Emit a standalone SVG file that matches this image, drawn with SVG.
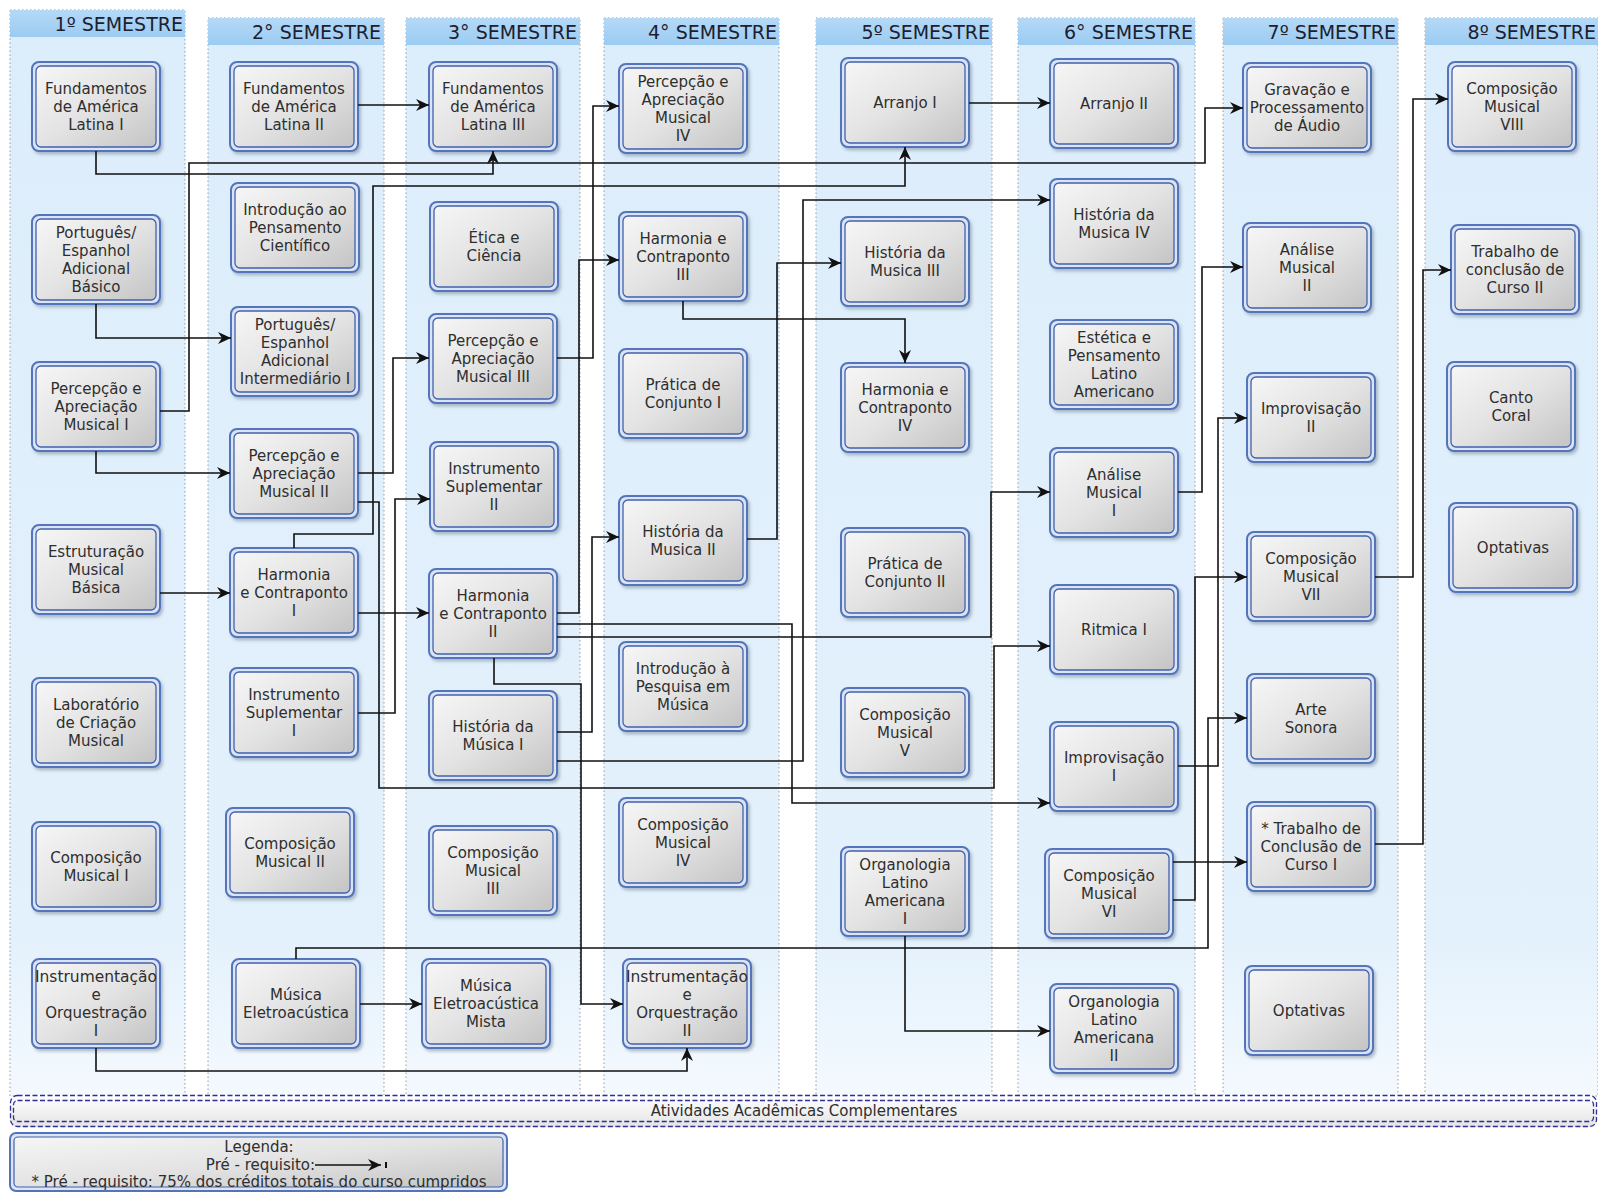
<svg xmlns="http://www.w3.org/2000/svg" width="1598" height="1192" viewBox="0 0 1598 1192">
<defs>
<linearGradient id="colg" x1="0" y1="0" x2="0" y2="1"><stop offset="0" stop-color="#dcedfb"/><stop offset="0.85" stop-color="#e3f1fc"/><stop offset="1" stop-color="#f4f9fe"/></linearGradient>
<linearGradient id="hdg" x1="0" y1="0" x2="0" y2="1"><stop offset="0" stop-color="#b4d9f6"/><stop offset="1" stop-color="#9ccbf2"/></linearGradient>
<linearGradient id="ng" x1="0" y1="0" x2="1" y2="1"><stop offset="0" stop-color="#f6f6f6"/><stop offset="0.5" stop-color="#e3e3e3"/><stop offset="1" stop-color="#c4c4c4"/></linearGradient>
<linearGradient id="ag" x1="0" y1="0" x2="0" y2="1"><stop offset="0" stop-color="#ffffff"/><stop offset="1" stop-color="#e4e4e4"/></linearGradient>
<filter id="sh" x="-10%" y="-10%" width="130%" height="130%"><feDropShadow dx="2" dy="2.5" stdDeviation="1.8" flood-color="#456" flood-opacity="0.35"/></filter>
<marker id="ar" markerWidth="14" markerHeight="12" refX="13" refY="6" orient="auto" markerUnits="userSpaceOnUse"><path d="M0,0 L13,6 L0,12 L4,6 Z" fill="#111"/></marker>
<style>
.band{fill:url(#colg);stroke:#9a9a9a;stroke-width:1;stroke-dasharray:1.5,2.5}
.hd{fill:url(#hdg)}
.ht{font-family:"DejaVu Sans",Verdana,sans-serif;font-size:19px;fill:#1c2030;text-anchor:end}
.o{fill:#dbe4f6;stroke:#5474ba;stroke-width:2;filter:url(#sh)}
.i{fill:url(#ng);stroke:#4262aa;stroke-width:1.3}
.t{font-family:"DejaVu Sans",Verdana,sans-serif;font-size:15px;fill:#2e2e2e;text-anchor:middle}
.cn path{fill:none;stroke:#111;stroke-width:1.6;marker-end:url(#ar)}
.lt{font-family:"DejaVu Sans",Verdana,sans-serif;font-size:15px;fill:#2e2e2e;text-anchor:middle}
.ds{fill:none;stroke:#2e2e96;stroke-width:1.3;stroke-dasharray:5,2.5}
</style>
</defs>
<rect width="1598" height="1192" fill="#ffffff"/>
<g id="columns">
<rect class="band" x="10" y="10" width="175" height="1086"/>
<rect class="hd" x="10" y="10" width="175" height="27"/>
<text class="ht" x="183" y="31">1º SEMESTRE</text>
<rect class="band" x="208" y="18" width="176" height="1078"/>
<rect class="hd" x="208" y="18" width="176" height="27"/>
<text class="ht" x="381" y="39">2° SEMESTRE</text>
<rect class="band" x="406" y="18" width="174" height="1078"/>
<rect class="hd" x="406" y="18" width="174" height="27"/>
<text class="ht" x="577" y="39">3° SEMESTRE</text>
<rect class="band" x="604" y="18" width="175" height="1078"/>
<rect class="hd" x="604" y="18" width="175" height="27"/>
<text class="ht" x="777" y="39">4° SEMESTRE</text>
<rect class="band" x="816" y="18" width="176" height="1078"/>
<rect class="hd" x="816" y="18" width="176" height="27"/>
<text class="ht" x="990" y="39">5º SEMESTRE</text>
<rect class="band" x="1018" y="18" width="177" height="1078"/>
<rect class="hd" x="1018" y="18" width="177" height="27"/>
<text class="ht" x="1193" y="39">6° SEMESTRE</text>
<rect class="band" x="1223" y="18" width="175" height="1078"/>
<rect class="hd" x="1223" y="18" width="175" height="27"/>
<text class="ht" x="1396" y="39">7º SEMESTRE</text>
<rect class="band" x="1425" y="18" width="173" height="1078"/>
<rect class="hd" x="1425" y="18" width="173" height="27"/>
<text class="ht" x="1596" y="39">8º SEMESTRE</text>
</g>

<g id="nodes">
<!-- column 1 -->
<g id="fal1" transform="translate(32,62)"><rect class="o" width="128" height="89" rx="7"/><rect class="i" x="4" y="4" width="120" height="81" rx="5"/><text class="t"><tspan x="64" y="32">Fundamentos</tspan><tspan x="64" y="50">de América</tspan><tspan x="64" y="68">Latina I</tspan></text></g>
<g id="pe-basico" transform="translate(32,215)"><rect class="o" width="128" height="89" rx="7"/><rect class="i" x="4" y="4" width="120" height="81" rx="5"/><text class="t"><tspan x="64" y="23">Português/</tspan><tspan x="64" y="41">Espanhol</tspan><tspan x="64" y="59">Adicional</tspan><tspan x="64" y="77">Básico</tspan></text></g>
<g id="pam1" transform="translate(32,362)"><rect class="o" width="128" height="89" rx="7"/><rect class="i" x="4" y="4" width="120" height="81" rx="5"/><text class="t"><tspan x="64" y="32">Percepção e</tspan><tspan x="64" y="50">Apreciação</tspan><tspan x="64" y="68">Musical I</tspan></text></g>
<g id="emb" transform="translate(32,525)"><rect class="o" width="128" height="89" rx="7"/><rect class="i" x="4" y="4" width="120" height="81" rx="5"/><text class="t"><tspan x="64" y="32">Estruturação</tspan><tspan x="64" y="50">Musical</tspan><tspan x="64" y="68">Básica</tspan></text></g>
<g id="lcm" transform="translate(32,678)"><rect class="o" width="128" height="89" rx="7"/><rect class="i" x="4" y="4" width="120" height="81" rx="5"/><text class="t"><tspan x="64" y="32">Laboratório</tspan><tspan x="64" y="50">de Criação</tspan><tspan x="64" y="68">Musical</tspan></text></g>
<g id="cm1" transform="translate(32,822)"><rect class="o" width="128" height="89" rx="7"/><rect class="i" x="4" y="4" width="120" height="81" rx="5"/><text class="t"><tspan x="64" y="41">Composição</tspan><tspan x="64" y="59">Musical I</tspan></text></g>
<g id="io1" transform="translate(32,959)"><rect class="o" width="128" height="89" rx="7"/><rect class="i" x="4" y="4" width="120" height="81" rx="5"/><text class="t"><tspan x="64" y="23" textLength="122" lengthAdjust="spacingAndGlyphs">Instrumentação</tspan><tspan x="64" y="41">e</tspan><tspan x="64" y="59">Orquestração</tspan><tspan x="64" y="77">I</tspan></text></g>
<!-- column 2 -->
<g id="fal2" transform="translate(230,62)"><rect class="o" width="128" height="89" rx="7"/><rect class="i" x="4" y="4" width="120" height="81" rx="5"/><text class="t"><tspan x="64" y="32">Fundamentos</tspan><tspan x="64" y="50">de América</tspan><tspan x="64" y="68">Latina II</tspan></text></g>
<g id="ipc" transform="translate(231,183)"><rect class="o" width="128" height="89" rx="7"/><rect class="i" x="4" y="4" width="120" height="81" rx="5"/><text class="t"><tspan x="64" y="32">Introdução ao</tspan><tspan x="64" y="50">Pensamento</tspan><tspan x="64" y="68">Científico</tspan></text></g>
<g id="pe-inter" transform="translate(231,307)"><rect class="o" width="128" height="89" rx="7"/><rect class="i" x="4" y="4" width="120" height="81" rx="5"/><text class="t"><tspan x="64" y="23">Português/</tspan><tspan x="64" y="41">Espanhol</tspan><tspan x="64" y="59">Adicional</tspan><tspan x="64" y="77">Intermediário I</tspan></text></g>
<g id="pam2" transform="translate(230,429)"><rect class="o" width="128" height="89" rx="7"/><rect class="i" x="4" y="4" width="120" height="81" rx="5"/><text class="t"><tspan x="64" y="32">Percepção e</tspan><tspan x="64" y="50">Apreciação</tspan><tspan x="64" y="68">Musical II</tspan></text></g>
<g id="hc1" transform="translate(230,548)"><rect class="o" width="128" height="89" rx="7"/><rect class="i" x="4" y="4" width="120" height="81" rx="5"/><text class="t"><tspan x="64" y="32">Harmonia</tspan><tspan x="64" y="50">e Contraponto</tspan><tspan x="64" y="68">I</tspan></text></g>
<g id="is1" transform="translate(230,668)"><rect class="o" width="128" height="89" rx="7"/><rect class="i" x="4" y="4" width="120" height="81" rx="5"/><text class="t"><tspan x="64" y="32">Instrumento</tspan><tspan x="64" y="50">Suplementar</tspan><tspan x="64" y="68">I</tspan></text></g>
<g id="cm2" transform="translate(226,808)"><rect class="o" width="128" height="89" rx="7"/><rect class="i" x="4" y="4" width="120" height="81" rx="5"/><text class="t"><tspan x="64" y="41">Composição</tspan><tspan x="64" y="59">Musical II</tspan></text></g>
<g id="me" transform="translate(232,959)"><rect class="o" width="128" height="89" rx="7"/><rect class="i" x="4" y="4" width="120" height="81" rx="5"/><text class="t"><tspan x="64" y="41">Música</tspan><tspan x="64" y="59">Eletroacústica</tspan></text></g>
<!-- column 3 -->
<g id="fal3" transform="translate(429,62)"><rect class="o" width="128" height="89" rx="7"/><rect class="i" x="4" y="4" width="120" height="81" rx="5"/><text class="t"><tspan x="64" y="32">Fundamentos</tspan><tspan x="64" y="50">de América</tspan><tspan x="64" y="68">Latina III</tspan></text></g>
<g id="etica" transform="translate(430,202)"><rect class="o" width="128" height="89" rx="7"/><rect class="i" x="4" y="4" width="120" height="81" rx="5"/><text class="t"><tspan x="64" y="41">Ética e</tspan><tspan x="64" y="59">Ciência</tspan></text></g>
<g id="pam3" transform="translate(429,314)"><rect class="o" width="128" height="89" rx="7"/><rect class="i" x="4" y="4" width="120" height="81" rx="5"/><text class="t"><tspan x="64" y="32">Percepção e</tspan><tspan x="64" y="50">Apreciação</tspan><tspan x="64" y="68">Musical III</tspan></text></g>
<g id="is2" transform="translate(430,442)"><rect class="o" width="128" height="89" rx="7"/><rect class="i" x="4" y="4" width="120" height="81" rx="5"/><text class="t"><tspan x="64" y="32">Instrumento</tspan><tspan x="64" y="50">Suplementar</tspan><tspan x="64" y="68">II</tspan></text></g>
<g id="hc2" transform="translate(429,569)"><rect class="o" width="128" height="89" rx="7"/><rect class="i" x="4" y="4" width="120" height="81" rx="5"/><text class="t"><tspan x="64" y="32">Harmonia</tspan><tspan x="64" y="50">e Contraponto</tspan><tspan x="64" y="68">II</tspan></text></g>
<g id="hm1" transform="translate(429,691)"><rect class="o" width="128" height="89" rx="7"/><rect class="i" x="4" y="4" width="120" height="81" rx="5"/><text class="t"><tspan x="64" y="41">História da</tspan><tspan x="64" y="59">Música I</tspan></text></g>
<g id="cm3" transform="translate(429,826)"><rect class="o" width="128" height="89" rx="7"/><rect class="i" x="4" y="4" width="120" height="81" rx="5"/><text class="t"><tspan x="64" y="32">Composição</tspan><tspan x="64" y="50">Musical</tspan><tspan x="64" y="68">III</tspan></text></g>
<g id="mem" transform="translate(422,959)"><rect class="o" width="128" height="89" rx="7"/><rect class="i" x="4" y="4" width="120" height="81" rx="5"/><text class="t"><tspan x="64" y="32">Música</tspan><tspan x="64" y="50">Eletroacústica</tspan><tspan x="64" y="68">Mista</tspan></text></g>
<!-- column 4 -->
<g id="pam4" transform="translate(619,64)"><rect class="o" width="128" height="89" rx="7"/><rect class="i" x="4" y="4" width="120" height="81" rx="5"/><text class="t"><tspan x="64" y="23">Percepção e</tspan><tspan x="64" y="41">Apreciação</tspan><tspan x="64" y="59">Musical</tspan><tspan x="64" y="77">IV</tspan></text></g>
<g id="hc3" transform="translate(619,212)"><rect class="o" width="128" height="89" rx="7"/><rect class="i" x="4" y="4" width="120" height="81" rx="5"/><text class="t"><tspan x="64" y="32">Harmonia e</tspan><tspan x="64" y="50">Contraponto</tspan><tspan x="64" y="68">III</tspan></text></g>
<g id="pc1" transform="translate(619,349)"><rect class="o" width="128" height="89" rx="7"/><rect class="i" x="4" y="4" width="120" height="81" rx="5"/><text class="t"><tspan x="64" y="41">Prática de</tspan><tspan x="64" y="59">Conjunto I</tspan></text></g>
<g id="hm2" transform="translate(619,496)"><rect class="o" width="128" height="89" rx="7"/><rect class="i" x="4" y="4" width="120" height="81" rx="5"/><text class="t"><tspan x="64" y="41">História da</tspan><tspan x="64" y="59">Musica II</tspan></text></g>
<g id="ipm" transform="translate(619,642)"><rect class="o" width="128" height="89" rx="7"/><rect class="i" x="4" y="4" width="120" height="81" rx="5"/><text class="t"><tspan x="64" y="32">Introdução à</tspan><tspan x="64" y="50">Pesquisa em</tspan><tspan x="64" y="68">Música</tspan></text></g>
<g id="cm4" transform="translate(619,798)"><rect class="o" width="128" height="89" rx="7"/><rect class="i" x="4" y="4" width="120" height="81" rx="5"/><text class="t"><tspan x="64" y="32">Composição</tspan><tspan x="64" y="50">Musical</tspan><tspan x="64" y="68">IV</tspan></text></g>
<g id="io2" transform="translate(623,959)"><rect class="o" width="128" height="89" rx="7"/><rect class="i" x="4" y="4" width="120" height="81" rx="5"/><text class="t"><tspan x="64" y="23" textLength="122" lengthAdjust="spacingAndGlyphs">Instrumentação</tspan><tspan x="64" y="41">e</tspan><tspan x="64" y="59">Orquestração</tspan><tspan x="64" y="77">II</tspan></text></g>
<!-- column 5 -->
<g id="arr1" transform="translate(841,58)"><rect class="o" width="128" height="89" rx="7"/><rect class="i" x="4" y="4" width="120" height="81" rx="5"/><text class="t"><tspan x="64" y="50">Arranjo I</tspan></text></g>
<g id="hm3" transform="translate(841,217)"><rect class="o" width="128" height="89" rx="7"/><rect class="i" x="4" y="4" width="120" height="81" rx="5"/><text class="t"><tspan x="64" y="41">História da</tspan><tspan x="64" y="59">Musica III</tspan></text></g>
<g id="hc4" transform="translate(841,363)"><rect class="o" width="128" height="89" rx="7"/><rect class="i" x="4" y="4" width="120" height="81" rx="5"/><text class="t"><tspan x="64" y="32">Harmonia e</tspan><tspan x="64" y="50">Contraponto</tspan><tspan x="64" y="68">IV</tspan></text></g>
<g id="pc2" transform="translate(841,528)"><rect class="o" width="128" height="89" rx="7"/><rect class="i" x="4" y="4" width="120" height="81" rx="5"/><text class="t"><tspan x="64" y="41">Prática de</tspan><tspan x="64" y="59">Conjunto II</tspan></text></g>
<g id="cm5" transform="translate(841,688)"><rect class="o" width="128" height="89" rx="7"/><rect class="i" x="4" y="4" width="120" height="81" rx="5"/><text class="t"><tspan x="64" y="32">Composição</tspan><tspan x="64" y="50">Musical</tspan><tspan x="64" y="68">V</tspan></text></g>
<g id="org1" transform="translate(841,847)"><rect class="o" width="128" height="89" rx="7"/><rect class="i" x="4" y="4" width="120" height="81" rx="5"/><text class="t"><tspan x="64" y="23">Organologia</tspan><tspan x="64" y="41">Latino</tspan><tspan x="64" y="59">Americana</tspan><tspan x="64" y="77">I</tspan></text></g>
<!-- column 6 -->
<g id="arr2" transform="translate(1050,59)"><rect class="o" width="128" height="89" rx="7"/><rect class="i" x="4" y="4" width="120" height="81" rx="5"/><text class="t"><tspan x="64" y="50">Arranjo II</tspan></text></g>
<g id="hm4" transform="translate(1050,179)"><rect class="o" width="128" height="89" rx="7"/><rect class="i" x="4" y="4" width="120" height="81" rx="5"/><text class="t"><tspan x="64" y="41">História da</tspan><tspan x="64" y="59">Musica IV</tspan></text></g>
<g id="epla" transform="translate(1050,320)"><rect class="o" width="128" height="89" rx="7"/><rect class="i" x="4" y="4" width="120" height="81" rx="5"/><text class="t"><tspan x="64" y="23">Estética e</tspan><tspan x="64" y="41">Pensamento</tspan><tspan x="64" y="59">Latino</tspan><tspan x="64" y="77">Americano</tspan></text></g>
<g id="am1" transform="translate(1050,448)"><rect class="o" width="128" height="89" rx="7"/><rect class="i" x="4" y="4" width="120" height="81" rx="5"/><text class="t"><tspan x="64" y="32">Análise</tspan><tspan x="64" y="50">Musical</tspan><tspan x="64" y="68">I</tspan></text></g>
<g id="rit1" transform="translate(1050,585)"><rect class="o" width="128" height="89" rx="7"/><rect class="i" x="4" y="4" width="120" height="81" rx="5"/><text class="t"><tspan x="64" y="50">Ritmica I</tspan></text></g>
<g id="imp1" transform="translate(1050,722)"><rect class="o" width="128" height="89" rx="7"/><rect class="i" x="4" y="4" width="120" height="81" rx="5"/><text class="t"><tspan x="64" y="41">Improvisação</tspan><tspan x="64" y="59">I</tspan></text></g>
<g id="cm6" transform="translate(1045,849)"><rect class="o" width="128" height="89" rx="7"/><rect class="i" x="4" y="4" width="120" height="81" rx="5"/><text class="t"><tspan x="64" y="32">Composição</tspan><tspan x="64" y="50">Musical</tspan><tspan x="64" y="68">VI</tspan></text></g>
<g id="org2" transform="translate(1050,984)"><rect class="o" width="128" height="89" rx="7"/><rect class="i" x="4" y="4" width="120" height="81" rx="5"/><text class="t"><tspan x="64" y="23">Organologia</tspan><tspan x="64" y="41">Latino</tspan><tspan x="64" y="59">Americana</tspan><tspan x="64" y="77">II</tspan></text></g>
<!-- column 7 -->
<g id="gpa" transform="translate(1243,63)"><rect class="o" width="128" height="89" rx="7"/><rect class="i" x="4" y="4" width="120" height="81" rx="5"/><text class="t"><tspan x="64" y="32">Gravação e</tspan><tspan x="64" y="50">Processamento</tspan><tspan x="64" y="68">de Áudio</tspan></text></g>
<g id="am2" transform="translate(1243,223)"><rect class="o" width="128" height="89" rx="7"/><rect class="i" x="4" y="4" width="120" height="81" rx="5"/><text class="t"><tspan x="64" y="32">Análise</tspan><tspan x="64" y="50">Musical</tspan><tspan x="64" y="68">II</tspan></text></g>
<g id="imp2" transform="translate(1247,373)"><rect class="o" width="128" height="89" rx="7"/><rect class="i" x="4" y="4" width="120" height="81" rx="5"/><text class="t"><tspan x="64" y="41">Improvisação</tspan><tspan x="64" y="59">II</tspan></text></g>
<g id="cm7" transform="translate(1247,532)"><rect class="o" width="128" height="89" rx="7"/><rect class="i" x="4" y="4" width="120" height="81" rx="5"/><text class="t"><tspan x="64" y="32">Composição</tspan><tspan x="64" y="50">Musical</tspan><tspan x="64" y="68">VII</tspan></text></g>
<g id="arte" transform="translate(1247,674)"><rect class="o" width="128" height="89" rx="7"/><rect class="i" x="4" y="4" width="120" height="81" rx="5"/><text class="t"><tspan x="64" y="41">Arte</tspan><tspan x="64" y="59">Sonora</tspan></text></g>
<g id="tcc1" transform="translate(1247,802)"><rect class="o" width="128" height="89" rx="7"/><rect class="i" x="4" y="4" width="120" height="81" rx="5"/><text class="t"><tspan x="64" y="32">* Trabalho de</tspan><tspan x="64" y="50">Conclusão de</tspan><tspan x="64" y="68">Curso I</tspan></text></g>
<g id="opt7" transform="translate(1245,966)"><rect class="o" width="128" height="89" rx="7"/><rect class="i" x="4" y="4" width="120" height="81" rx="5"/><text class="t"><tspan x="64" y="50">Optativas</tspan></text></g>
<!-- column 8 -->
<g id="cm8" transform="translate(1448,62)"><rect class="o" width="128" height="89" rx="7"/><rect class="i" x="4" y="4" width="120" height="81" rx="5"/><text class="t"><tspan x="64" y="32">Composição</tspan><tspan x="64" y="50">Musical</tspan><tspan x="64" y="68">VIII</tspan></text></g>
<g id="tcc2" transform="translate(1451,225)"><rect class="o" width="128" height="89" rx="7"/><rect class="i" x="4" y="4" width="120" height="81" rx="5"/><text class="t"><tspan x="64" y="32">Trabalho de</tspan><tspan x="64" y="50">conclusão de</tspan><tspan x="64" y="68">Curso II</tspan></text></g>
<g id="coral" transform="translate(1447,362)"><rect class="o" width="128" height="89" rx="7"/><rect class="i" x="4" y="4" width="120" height="81" rx="5"/><text class="t"><tspan x="64" y="41">Canto</tspan><tspan x="64" y="59">Coral</tspan></text></g>
<g id="opt8" transform="translate(1449,503)"><rect class="o" width="128" height="89" rx="7"/><rect class="i" x="4" y="4" width="120" height="81" rx="5"/><text class="t"><tspan x="64" y="50">Optativas</tspan></text></g>
</g>

<g id="connectors" class="cn">
<path d="M96,151 V174 H493 V151"/>
<path d="M160,411 H189 V163 H1205 V108 H1243"/>
<path d="M294,548 V534 H373 V186 H905 V147"/>
<path d="M358,473 H393 V358 H429"/>
<path d="M358,502 H379 V788 H994 V646 H1050"/>
<path d="M557,637 H991 V492 H1050"/>
<path d="M557,624 H792 V803 H1050"/>
<path d="M557,358 H593 V106 H619"/>
<path d="M557,732 H592 V537 H619"/>
<path d="M557,613 H579 V260 H619"/>
<path d="M747,539 H777 V263 H841"/>
<path d="M683,301 V319 H905 V363"/>
<path d="M557,761 H803 V200 H1050"/>
<path d="M494,658 V684 H581 V1004 H623"/>
<path d="M96,1048 V1071 H687 V1048"/>
<path d="M360,1004 H422"/>
<path d="M296,959 V948 H1208 V718 H1247"/>
<path d="M96,451 V473 H230"/>
<path d="M96,304 V338 H231"/>
<path d="M160,593 H230"/>
<path d="M358,613 H429"/>
<path d="M358,713 H395 V499 H430"/>
<path d="M358,105 H429"/>
<path d="M969,103 H1050"/>
<path d="M1178,492 H1202 V267 H1243"/>
<path d="M1178,766 H1218 V418 H1247"/>
<path d="M1173,862 H1247"/>
<path d="M1173,900 H1195 V577 H1247"/>
<path d="M1375,577 H1413 V99 H1448"/>
<path d="M1375,844 H1423 V270 H1451"/>
<path d="M905,936 V1031 H1050"/>
</g>

<g id="atividades">
<rect x="10" y="1095" width="1587" height="32" rx="7" fill="url(#ag)"/>
<rect class="ds" x="10.5" y="1095.5" width="1586" height="31" rx="7"/>
<rect class="ds" x="13.5" y="1100.5" width="1580" height="21" rx="4"/>
<text class="lt" x="804" y="1116">Atividades Acadêmicas Complementares</text>
</g>

<g id="legenda">
<rect x="10" y="1133" width="497" height="58" rx="6" fill="#dbe4f6" stroke="#5474ba" stroke-width="2"/>
<rect x="14" y="1137" width="489" height="50" rx="4" fill="url(#ng)" stroke="#4262aa" stroke-width="1.2"/>
<text class="lt" x="259" y="1152">Legenda:</text>
<text class="lt" x="315" y="1170" style="text-anchor:end">Pré - requisito:</text>
<path d="M315,1165 H381" fill="none" stroke="#111" stroke-width="1.6" marker-end="url(#ar)"/>
<path d="M386,1162 V1168" stroke="#111" stroke-width="2"/>
<text class="lt" x="259" y="1187">* Pré - requisito: 75% dos créditos totais do curso cumpridos</text>
</g>
</svg>
